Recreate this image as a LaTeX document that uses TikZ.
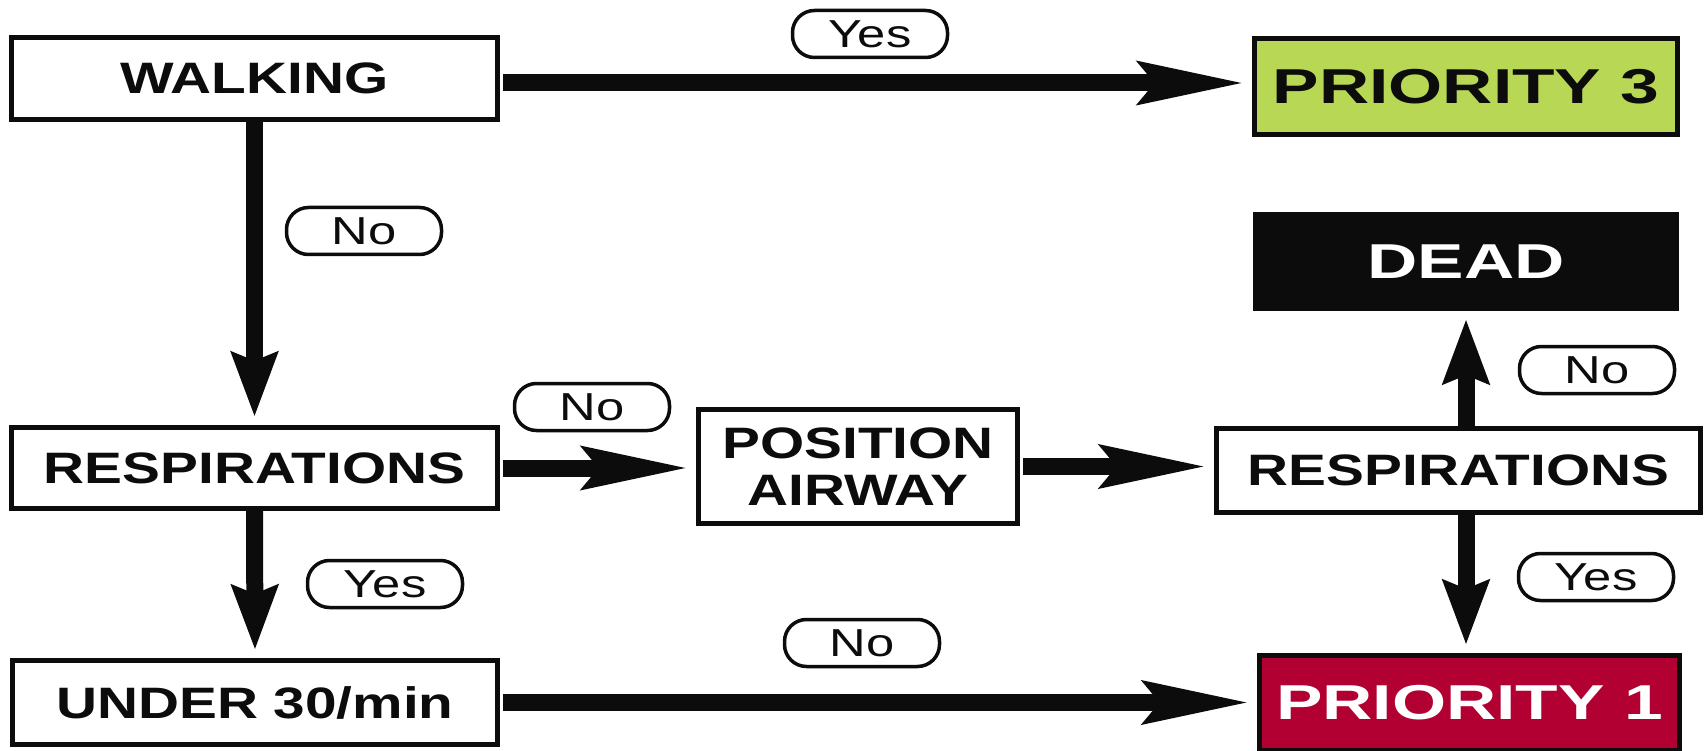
\documentclass[tikz,border=0pt]{standalone}
\usepackage{fontspec}
\setmainfont{Liberation Sans}
\newfontfamily\decfont[FakeStretch=1.29]{Liberation Sans}
\newfontfamily\resfont[FakeStretch=1.42]{Liberation Sans}
\newfontfamily\labfont[FakeStretch=1.3]{Liberation Sans}
\usetikzlibrary{arrows.meta}
\definecolor{pgreen}{RGB}{184,215,84}
\definecolor{pred}{RGB}{178,0,50}
\definecolor{ink}{RGB}{12,12,12}
\begin{document}
\begin{tikzpicture}[x=1pt,y=-1pt,
  box/.style={draw=ink, line width=5pt, fill=white, inner sep=0pt, text=ink, align=center,
    font=\decfont\bfseries\fontsize{44}{47}\selectfont},
  resbox/.style={draw=ink, line width=5pt, inner sep=0pt,
    font=\resfont\bfseries\fontsize{49}{50}\selectfont},
  lab/.style={draw=ink, line width=3.5pt, rounded corners=22pt, minimum width=155pt,
    minimum height=47pt, inner sep=0pt, fill=white, text=ink,
    font=\labfont\fontsize{39}{40}\selectfont},
  harrow/.style={draw=ink, line width=17pt, -{Stealth[length=105pt,width=42pt,inset=16pt]},
    shorten <=3pt, shorten >=8pt},
  varrow/.style={draw=ink, line width=17pt, -{Stealth[length=64pt,width=45pt,inset=8pt]},
    shorten >=8pt},
]
\useasboundingbox (0,0) rectangle (1705,751);
\clip (0,0) rectangle (1705,751);
\fill[white] (0,0) rectangle (1705,751);

% decision boxes
\node[box, minimum width=486pt, minimum height=82pt] (walk) at (254.5,78.5) {WALKING};
\node[box, minimum width=486pt, minimum height=81pt] (resp1) at (254.5,468) {RESPIRATIONS};
\node[box, minimum width=485pt, minimum height=84pt] (under) at (255,702.5) {UNDER 30/min};
\node[box, minimum width=319pt, minimum height=114pt] (pa) at (858,466.5) {POSITION\\AIRWAY};
\node[box, minimum width=484pt, minimum height=84pt] (resp2) at (1458.5,470.5) {RESPIRATIONS};

% result boxes
\node[resbox, fill=pgreen, text=ink, minimum width=423pt, minimum height=96pt] (p3) at (1466,86.5) {PRIORITY 3};
\node[resbox, fill=ink, text=white, minimum width=421pt, minimum height=94pt] (dead) at (1466,261.5) {DEAD};
\node[resbox, fill=pred, text=white, minimum width=420pt, minimum height=95pt] (p1) at (1469.5,703) {PRIORITY 1};

% connectors
\draw[harrow] ([yshift=-4.5pt]walk.east) -- ([yshift=-4.5pt]walk.east -| p3.west);
\draw[varrow] (walk.south) -- (resp1.north);
\draw[harrow] (resp1.east) -- (resp1.east -| pa.west);
\draw[harrow] (pa.east) -- (pa.east -| resp2.west);
\draw[varrow] (resp1.south) -- (under.north);
\draw[varrow] (resp2.north -| dead.south) -- (dead.south);
\draw[varrow] (resp2.south -| dead.south) -- (p1.north -| dead.south);
\draw[harrow] (under.east) -- (under.east -| p1.west);

% labels
\node[lab] (yes1) at (870,34) {Yes};
\node[lab] (no1) at (364,231) {No};
\node[lab] (no2) at (592,407) {No};
\node[lab] (no3) at (1597,370) {No};
\node[lab] (yes2) at (1596,577) {Yes};
\node[lab] (yes3) at (385,584) {Yes};
\node[lab] (no4) at (862,643) {No};
\end{tikzpicture}
\end{document}
